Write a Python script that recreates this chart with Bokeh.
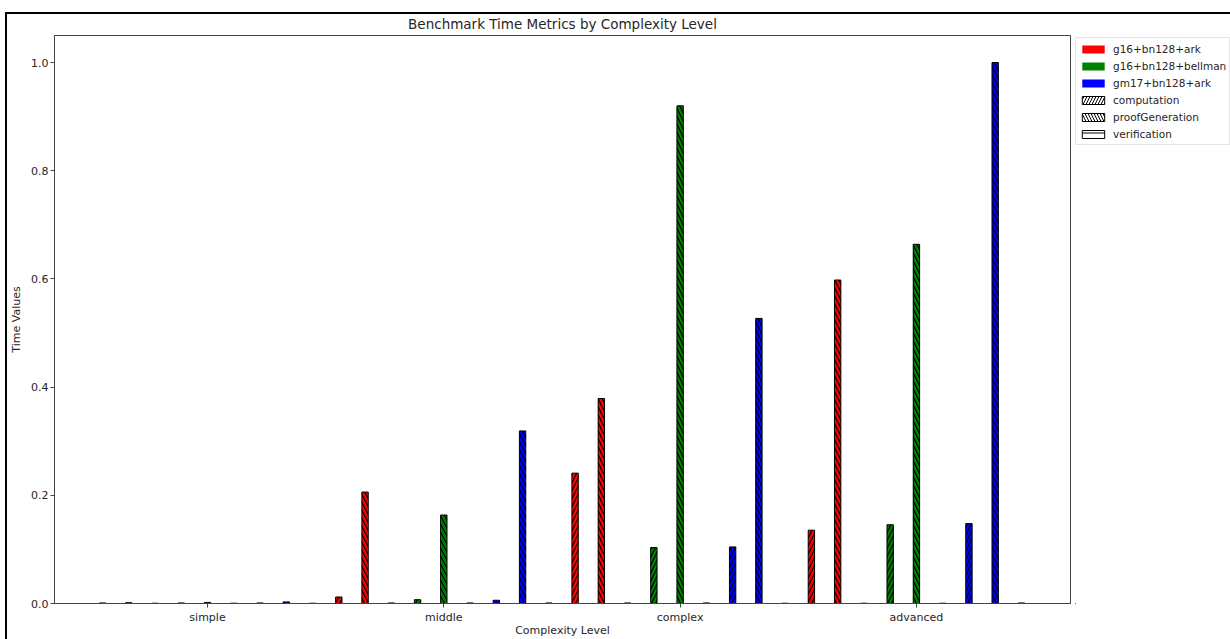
from bokeh.plotting import figure
from bokeh.layouts import row
from bokeh.models import ColumnDataSource, Legend, LegendItem, FixedTicker, Range1d
from bokeh.embed import file_html
from bokeh.resources import INLINE

# Complexity levels (x categories)
levels = ["simple", "middle", "complex", "advanced"]

# Proving setups and timing metrics
setups = ["g16+bn128+ark", "g16+bn128+bellman", "gm17+bn128+ark"]
metrics = ["computation", "proofGeneration", "verification"]

# Normalised time values per setup, one entry per complexity level
g16_ark_computation = [0.0010, 0.012, 0.241, 0.1355]
g16_ark_proof = [0.0015, 0.206, 0.379, 0.598]
g16_ark_verification = [0.0005, 0.0010, 0.0010, 0.0005]

g16_bellman_computation = [0.0010, 0.007, 0.1035, 0.1456]
g16_bellman_proof = [0.0020, 0.1636, 0.920, 0.664]
g16_bellman_verification = [0.0005, 0.0010, 0.0010, 0.0005]

gm17_ark_computation = [0.0010, 0.006, 0.1046, 0.1477]
gm17_ark_proof = [0.0030, 0.319, 0.527, 1.000]
gm17_ark_verification = [0.0005, 0.0010, 0.0005, 0.0010]

series = [
    [g16_ark_computation, g16_ark_proof, g16_ark_verification],
    [g16_bellman_computation, g16_bellman_proof, g16_bellman_verification],
    [gm17_ark_computation, gm17_ark_proof, gm17_ark_verification],
]

setup_colors = ["#ff0000", "#008000", "#0000ff"]
metric_hatches = ["/", "\\", "-"]

FONT = "DejaVu Sans"
TEXT = "#262626"
SPINE = "#444444"

slot = 1.0 / 9.0
bar_w = 0.027

xs, tops, fills, hatches = [], [], [], []
for li in range(len(levels)):
    for si in range(len(setups)):
        for mi in range(len(metrics)):
            k = si * 3 + mi
            xs.append(li + (k - 4) * slot)
            tops.append(series[si][mi][li])
            fills.append(setup_colors[si])
            hatches.append(metric_hatches[mi])

src = ColumnDataSource(dict(x=xs, top=tops, fill=fills, hatch=hatches))

p = figure(
    width=1068, height=625,
    output_backend="svg", toolbar_location=None,
    x_range=Range1d(-0.6475, 3.652), y_range=Range1d(0, 1.05),
    min_border_left=47, min_border_right=5, min_border_top=21, min_border_bottom=36,
    title="Benchmark Time Metrics by Complexity Level",
)

p.vbar(x="x", top="top", bottom=0, width=bar_w, source=src,
       fill_color="fill", line_color="black", line_width=1,
       hatch_pattern="hatch", hatch_color="black", hatch_scale=8, hatch_weight=1.2)

# Title and axes styling
p.title.align = "center"
p.title.vertical_align = "top"
p.title.text_font = FONT
p.title.text_font_size = "13.5px"
p.title.text_font_style = "normal"
p.title.text_color = TEXT
p.title.standoff = 3

p.grid.visible = False
p.outline_line_color = SPINE
p.outline_line_width = 1
p.background_fill_color = "white"
p.border_fill_color = "white"

for ax in (p.xaxis[0], p.yaxis[0]):
    ax.axis_line_color = SPINE
    ax.major_tick_line_color = SPINE
    ax.major_tick_out = 4
    ax.major_tick_in = 0
    ax.minor_tick_line_color = None
    ax.major_label_text_font = FONT
    ax.major_label_text_font_size = "11px"
    ax.major_label_text_color = TEXT
    ax.axis_label_text_font = FONT
    ax.axis_label_text_font_size = "11px"
    ax.axis_label_text_font_style = "normal"
    ax.axis_label_text_color = TEXT

p.xaxis.ticker = FixedTicker(ticks=list(range(len(levels))))
p.xaxis.major_label_overrides = {i: name for i, name in enumerate(levels)}
p.xaxis.axis_label = "Complexity Level"
p.xaxis.major_label_standoff = 3
p.xaxis.axis_label_standoff = -3

p.yaxis.ticker = FixedTicker(ticks=[0.0, 0.2, 0.4, 0.6, 0.8, 1.0])
p.yaxis.major_label_overrides = {0.0: "0.0", 0.2: "0.2", 0.4: "0.4", 0.6: "0.6", 0.8: "0.8", 1.0: "1.0"}
p.yaxis.axis_label = "Time Values"
p.yaxis.major_label_standoff = 2
p.yaxis.axis_label_standoff = 5

# Side strip holding the legend
lp = figure(
    width=155, height=625,
    output_backend="svg", toolbar_location=None,
    x_range=Range1d(0, 1), y_range=Range1d(0, 1),
    x_axis_type=None, y_axis_type=None,
    min_border=0, min_border_left=0, min_border_right=0, min_border_top=0, min_border_bottom=0,
)
lp.grid.visible = False
lp.outline_line_color = None
lp.background_fill_color = "white"
lp.border_fill_color = "white"

# Legend proxies (kept outside the visible range): solid patches for setups,
# hatched outlines for metrics
items = []
for name, color in zip(setups, setup_colors):
    r = lp.vbar(x=[-10], top=[0], width=0.1, fill_color=color, line_color=None)
    items.append(LegendItem(label=name, renderers=[r]))
for name, h in zip(metrics, metric_hatches):
    r = lp.vbar(x=[-10], top=[0], width=0.1, fill_color="white", line_color="black",
                line_width=1, hatch_pattern=h, hatch_color="black", hatch_scale=6, hatch_weight=1)
    items.append(LegendItem(label=name, renderers=[r]))

legend = Legend(
    items=items, location=(0, 458),
    glyph_width=28, glyph_height=10, label_height=15, spacing=2,
    padding=3, margin=0, label_standoff=6,
    label_text_font=FONT, label_text_font_size="10.5px", label_text_color=TEXT,
    border_line_color="#cccccc", border_line_width=1,
    background_fill_color="white", background_fill_alpha=0.8,
)
lp.add_layout(legend, "center")

layout = row(p, lp, spacing=0)
layout.styles = {
    "margin-left": "5px", "margin-top": "12px",
    "border-left": "2px solid black", "border-top": "2px solid black",
}

open("out.html", "w").write(file_html(layout, INLINE))
